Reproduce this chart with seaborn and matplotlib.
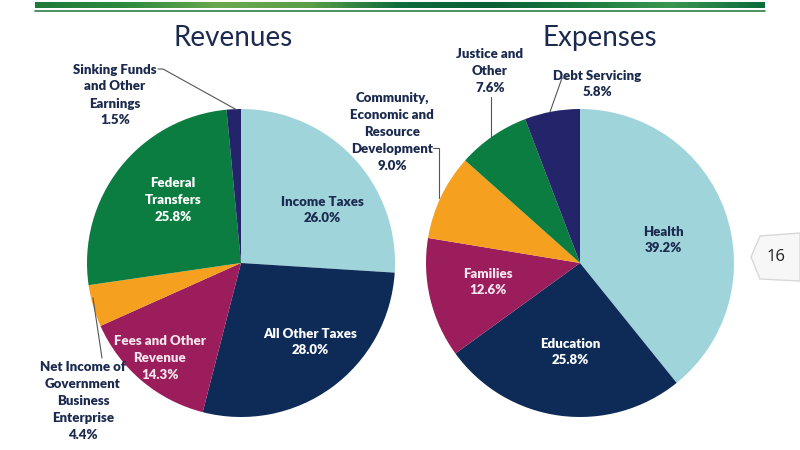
import numpy as np
import matplotlib
matplotlib.use("Agg")
import matplotlib.pyplot as plt
import seaborn as sns
from matplotlib.patches import Polygon
from matplotlib.lines import Line2D

# data
rev_labels = ["Income Taxes", "All Other Taxes", "Fees and Other\nRevenue",
              "Net Income of\nGovernment\nBusiness\nEnterprise", "Federal\nTransfers",
              "Sinking Funds\nand Other\nEarnings"]
rev_values = [26.0, 28.0, 14.3, 4.4, 25.8, 1.5]

exp_labels = ["Health", "Education", "Families",
              "Community,\nEconomic and\nResource\nDevelopment", "Justice and\nOther",
              "Debt Servicing"]
exp_values = [39.2, 25.8, 12.6, 9.0, 7.6, 5.8]

light_blue = "#9fd4da"
navy = "#0e2b58"
maroon = "#9c1d5c"
orange = "#f6a020"
green = "#0b7d40"
indigo = "#24246a"
text_navy = "#1b2a4e"

rev_colors = [light_blue, navy, maroon, orange, green, indigo]
exp_colors = [light_blue, navy, maroon, orange, green, indigo]

sns.set_theme(style="white")
plt.rcParams['font.family'] = ['Lato', 'DejaVu Sans']

W, H = 800, 450
fig = plt.figure(figsize=(8, 4.5), dpi=100)
fig.patch.set_facecolor("white")


def px(x, y):
    return x / W, 1 - y / H


def pie_axes(cx, cy, r):
    return fig.add_axes([(cx - r) / W, 1 - (cy + r) / H, 2 * r / W, 2 * r / H])


# top green banner
bar_ax = fig.add_axes([35 / W, 1 - 8 / H, 730 / W, 6 / H])
greens = ["#1f7a3a", "#2f8a3e", "#6aa84f", "#5a9e48", "#0d6b3c", "#0a5e36", "#1b7a3f", "#3a9650", "#0d6b3c"]
cmap = matplotlib.colors.LinearSegmentedColormap.from_list("g", greens)
bar_ax.imshow(np.linspace(0, 1, 200)[None, :], aspect="auto", cmap=cmap)
bar_ax.axis("off")
fig.add_artist(Line2D([35 / W, 765 / W], [1 - 10.5 / H] * 2, color="#2f7d45", lw=1.2))

# revenue pie
ax1 = pie_axes(241, 263, 154)
ax1.pie(rev_values, colors=rev_colors, startangle=90, counterclock=False,
        wedgeprops=dict(linewidth=0))
ax1.set_xlim(-1, 1)
ax1.set_ylim(-1, 1)
ax1.axis("off")

# expenses pie
ax2 = pie_axes(580, 263, 154)
ax2.pie(exp_values, colors=exp_colors, startangle=90, counterclock=False,
        wedgeprops=dict(linewidth=0))
ax2.set_xlim(-1, 1)
ax2.set_ylim(-1, 1)
ax2.axis("off")

fig.text(*px(233, 38), "Revenues", ha="center", va="center", fontsize=20, color=text_navy)
fig.text(*px(600, 38), "Expenses", ha="center", va="center", fontsize=20, color=text_navy)

rev_pos = [(322, 210), (310, 342), (160, 358), (83, 401), (173, 200), (115, 95)]
rev_tcol = [text_navy, "white", "#f6e6ee", text_navy, "white", text_navy]
exp_pos = [(663, 240), (570, 352), (488, 282), (392, 132), (490, 71), (597, 84)]
exp_tcol = [text_navy, "white", "#f6e6ee", text_navy, text_navy, text_navy]

for lab, v, (x, y), c in zip(rev_labels, rev_values, rev_pos, rev_tcol):
    fig.text(*px(x, y), f"{lab}\n{v:.1f}%", ha="center", va="center", fontsize=9.5,
             fontweight="heavy", color=c, linespacing=1.5)
for lab, v, (x, y), c in zip(exp_labels, exp_values, exp_pos, exp_tcol):
    fig.text(*px(x, y), f"{lab}\n{v:.1f}%", ha="center", va="center", fontsize=9.5,
             fontweight="heavy", color=c, linespacing=1.5)

# leader lines
leaders = [
    [(158, 69), (163, 69), (237, 110)],
    [(102, 358), (93, 298)],
    [(433, 148), (439, 148), (439, 198)],
    [(491, 97), (491, 140)],
    [(567, 78), (562, 78), (550, 112)],
]
for pts in leaders:
    xs = [p[0] / W for p in pts]
    ys = [1 - p[1] / H for p in pts]
    fig.add_artist(Line2D(xs, ys, color="#555555", lw=0.8))

# page badge
badge = Polygon([px(751, 257), px(760, 236), px(800, 233), px(800, 281), px(760, 279)],
                closed=True, facecolor="#f7f7f7", edgecolor="#d8d8d8", lw=1.0,
                transform=fig.transFigure)
fig.add_artist(badge)
fig.text(*px(776, 257), "16", ha="center", va="center", fontsize=12, color="#222222",
         family=["Open Sans", "DejaVu Sans"])

fig.savefig("out.png", dpi=100)
